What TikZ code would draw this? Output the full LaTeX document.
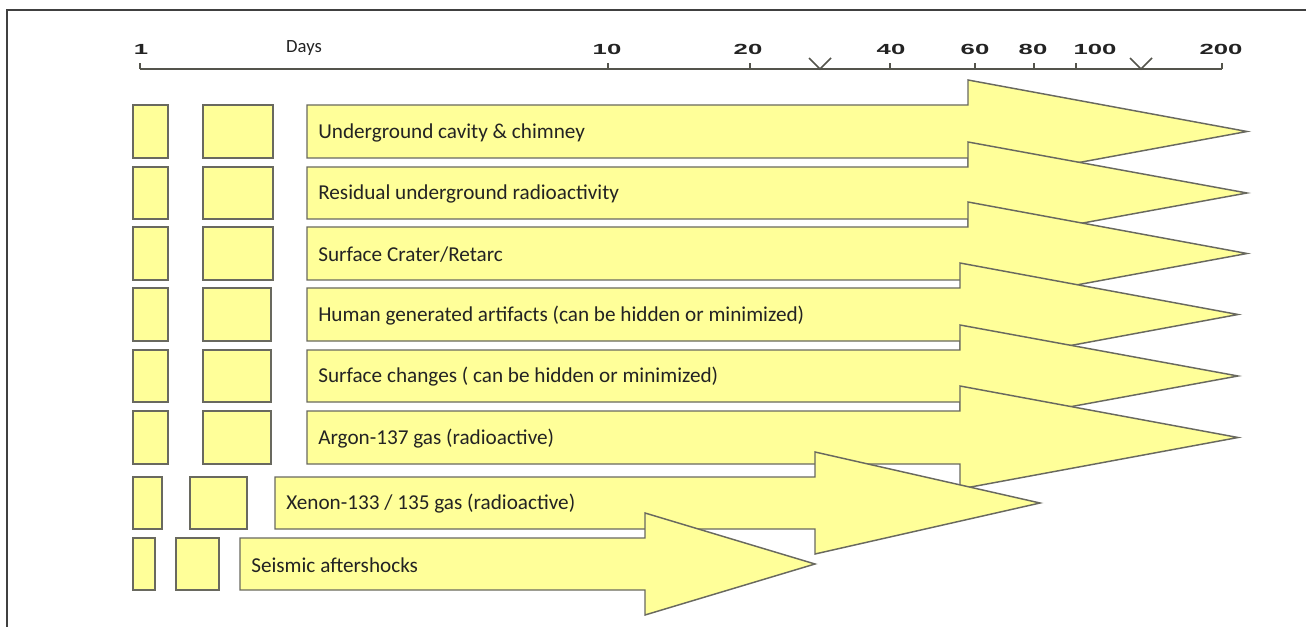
\documentclass[tikz,border=0pt]{standalone}
\usepackage{fontspec}
\setmainfont{Carlito}
\newfontfamily\axisfont{Liberation Sans}
\definecolor{boxfill}{RGB}{255,255,153}
\definecolor{boxline}{RGB}{105,105,95}
\definecolor{txt}{RGB}{35,35,35}
\begin{document}
\begin{tikzpicture}[x=0.75pt,y=-0.75pt,
  yshape/.style={draw=boxline,fill=boxfill,line width=1.1pt,line join=miter},
  smallbox/.style={yshape},
  lbl/.style={anchor=west,inner sep=0pt,text=txt,font=\fontsize{15.9}{18}\selectfont},
  num/.style={inner sep=0pt,text=txt,font=\axisfont\bfseries\fontsize{11}{12}\selectfont,xscale=1.75},
  axis/.style={draw=boxline!80!black,line width=1.1pt}]
\useasboundingbox (0,0) rectangle (1306,627);
% frame
\draw[line width=1.3pt,draw=black!75] (1306,10) -- (7,10) -- (7,627);
% axis
\coordinate (a0) at (140,69);
\coordinate (a1) at (1222,69);
\draw[axis] (a0) -- (a1);
\foreach \x in {140,608,750,890,975,1034,1076,1222}{
  \draw[axis] (\x,69) -- (\x,63);
}
\draw[axis] (809,58) -- (820,69) -- (831,58);
\draw[axis] (1130,58) -- (1141,69) -- (1152,58);
\node[num] (n1) at (141,49) {1};
\node[inner sep=0pt,text=txt,font=\fontsize{14}{16}\selectfont] (days) at (304,48) {Days};
\node[num] (n10) at (607,49) {10};
\node[num] (n20) at (748,49) {20};
\node[num] (n40) at (891,49) {40};
\node[num] (n60) at (975,49) {60};
\node[num] (n80) at (1033,49) {80};
\node[num] (n100) at (1095,49) {100};
\node[num] (n200) at (1221,49) {200};
% rows: yt, yb, x0, xh, tip, b1a, b1b, b2a, b2b, label
\foreach \yt/\yb/\xo/\xh/\xt/\ba/\bb/\bc/\bd/\lab [count=\i] in {
  105/158/307/968/1247/133/168/203/273/{Underground cavity \& chimney},
  167/219/307/968/1247/133/168/203/273/{Residual underground radioactivity},
  227/280/307/968/1247/133/168/203/273/{Surface Crater/Retarc},
  288/341/307/960/1238/133/168/203/271/{Human generated artifacts (can be hidden or minimized)},
  350/402/307/960/1238/133/168/203/271/{Surface changes ( can be hidden or minimized)},
  411/464/307/960/1238/133/168/203/271/{Argon-137 gas (radioactive)},
  477/529/275/815/1040/133/162/190/247/{Xenon-133 / 135 gas (radioactive)},
  538/590/240/645/815/133/155/176/219/{Seismic aftershocks}}{
  \pgfmathsetmacro{\ym}{(\yt+\yb)/2}
  \draw[smallbox] (\ba,\yt) rectangle (\bb,\yb);
  \draw[smallbox] (\bc,\yt) rectangle (\bd,\yb);
  \draw[yshape] (\xo,\yt) -- (\xh,\yt) -- (\xh,\yt-25) -- (\xt,\ym) -- (\xh,\yb+25) -- (\xh,\yb) -- (\xo,\yb) -- cycle;
  \node[lbl] (L\i) at (\xo+11,\ym+1) {\lab};
}
\end{tikzpicture}
\end{document}
